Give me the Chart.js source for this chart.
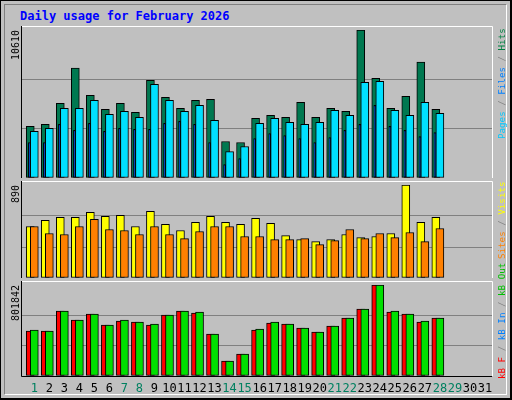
<!DOCTYPE html>
<html><head><meta charset="utf-8">
<script src="https://cdn.jsdelivr.net/npm/chart.js@4"></script>
<style>
html,body{margin:0;padding:0;}
#wrap{position:relative;width:512px;height:400px;background:#c0c0c0;box-sizing:border-box;border:1px solid #000;border-right:2px solid #000;border-bottom:2px solid #000;overflow:hidden;font-family:"DejaVu Sans Mono",monospace;}
#inner{position:absolute;left:3px;top:3px;right:3px;bottom:3px;border-right:1px solid #fff;border-bottom:1px solid #fff;border-left:1px solid #808080;border-top:1px solid #808080;}
canvas{position:absolute;left:0;}
.t{position:absolute;color:#0000ff;font-weight:bold;font-size:12px;left:19px;top:8px;}
.r{position:absolute;font-size:9.2px;white-space:nowrap;transform-origin:0 0;transform:rotate(-90deg);}
</style></head><body>
<div id="wrap"><div id="inner"></div>
<div class="t">Daily usage for February 2026</div>
<canvas id="c1" width="512" height="153" style="top:24px"></canvas>
<canvas id="c2" width="512" height="97" style="top:180px"></canvas>
<canvas id="c3" width="512" height="120" style="top:280px"></canvas>
<div class="r" style="left:495px;top:138px"><span style="color:#00c8ff">Pages</span><span style="color:#808080"> / </span><span style="color:#0080ff">Files</span><span style="color:#808080"> / </span><span style="color:#008040">Hits</span></div>
<div class="r" style="left:495px;top:258px"><span style="color:#ff8000">Sites</span><span style="color:#808080"> / </span><span style="color:#ffff00">Visits</span></div>
<div class="r" style="left:495px;top:378px"><span style="color:#ff0000">kB F</span><span style="color:#808080"> / </span><span style="color:#0080ff">kB In</span><span style="color:#808080"> / </span><span style="color:#00c000">kB Out</span></div>
</div>
<script>
const days = Array.from({length:31},(_,i)=>i+1);
const weekend = [1,7,8,14,15,21,22,28,29];
const hits  = [3697,3841,5353,7874,5929,4921,5353,4705,7009,5785,4993,5569,5641,2617,2545,4273,4489,4345,5425,4345,4993,4777,10610,7153,4993,5857,8306,4921];
const files = [3337,3553,4993,4993,5569,4561,4777,4345,6721,5569,4777,5209,4129,1896,2256,3913,4273,3985,3841,3985,4849,4489,6865,6937,4849,4489,5425,4633];
const pages = [2545,2545,3841,3409,3913,3337,3553,3481,3481,3913,4057,3841,2545,960,1392,2833,3193,3049,2833,2545,2905,3409,3841,5209,3697,3409,2977,3265];
const visits= [493,551,580,580,629,590,600,493,638,513,455,532,590,532,513,571,522,406,368,348,368,416,387,397,426,890,532,580];
const sites = [493,426,416,493,561,464,455,416,493,416,377,445,493,493,397,397,368,368,377,319,358,464,377,426,387,435,348,474];
const kbF   = [396521,396521,572744,493444,546310,449382,484632,475822,449382,537498,572744,555122,370080,132172,193852,405329,467009,458196,422952,387706,440570,511065,590367,801842,563934,546310,475822,511065];
const kbIn  = [0,0,0,0,0,0,0,0,4000,0,0,0,0,0,0,0,0,0,0,0,0,0,0,0,0,0,0,0];
const kbOut = [405329,396521,572744,493444,546310,449382,493444,475822,458196,537498,572744,563934,370080,132172,193852,414140,475822,458196,422952,387706,440570,511065,590367,801842,572744,546310,484632,511065];
const maxes = [10610, 890, 801842];

function pts(arr, off){ return arr.map((v,i)=>({x:days[i]+off, y:v})); }
function ds(arr, off, color, w, order){
  return {data:pts(arr,off), backgroundColor:color, borderColor:'#000', borderWidth:1, barThickness:w, grouped:false, order:order, borderSkipped:false};
}
const frame = {
  id:'frame',
  afterDraw(c, a, o){
    const ctx=c.ctx, ca=c.chartArea;
    ctx.save();
    ctx.lineWidth=1;
    ctx.strokeStyle='#fff';
    ctx.beginPath(); ctx.moveTo(ca.left, o.top+0.5); ctx.lineTo(ca.right+0.5, o.top+0.5); ctx.lineTo(ca.right+0.5, ca.bottom); ctx.stroke();
    ctx.strokeStyle='#000';
    ctx.beginPath(); ctx.moveTo(ca.left-0.5, o.top); ctx.lineTo(ca.left-0.5, ca.bottom+0.5); ctx.lineTo(ca.right, ca.bottom+0.5); ctx.stroke();
    ctx.fillStyle='#000'; ctx.font='10px "DejaVu Sans Mono"';
    ctx.translate(15, ca.top); ctx.rotate(-Math.PI/2);
    ctx.textAlign='right'; ctx.textBaseline='middle';
    ctx.fillText(String(o.max), 0, 0);
    ctx.restore();
    if(o.labels){
      const xs=c.scales.x;
      ctx.save(); ctx.font='12px "DejaVu Sans Mono"'; ctx.textAlign='center'; ctx.textBaseline='middle';
      days.forEach(d=>{ ctx.fillStyle = weekend.includes(d)?'#008060':'#000'; ctx.fillText(String(d), xs.getPixelForValue(d), ca.bottom+13); });
      ctx.restore();
    }
  }
};
function make(id, datasets, max, padTop, padBottom, labels){
  new Chart(document.getElementById(id), {
    type:'bar', data:{datasets},
    options:{responsive:false, animation:false, events:[],
      layout:{padding:{left:21, right:21, top:padTop, bottom:padBottom}},
      plugins:{legend:{display:false}, tooltip:{enabled:false}, frame:{max, top:padTop-4, labels}},
      scales:{
        x:{type:'linear', min:0.18, max:31.47, offset:false, bounds:'ticks', display:false},
        y:{min:0, max:max, display:true, border:{display:false}, ticks:{display:false, stepSize:max/3}, grid:{color:c=>(c.tick.value>0&&c.tick.value<max*0.99)?'#808080':'rgba(0,0,0,0)', drawTicks:false, lineWidth:1}}
      }},
    plugins:[frame]
  });
}
make('c1',[ds(hits,-0.27,'#007850',8,3), ds(files,0,'#00e0ff',8,2), ds(pages,-0.33,'#0040ff',2,1)], maxes[0], 5, 0, false);
make('c2',[ds(visits,-0.27,'#ffff00',8,2), ds(sites,0,'#ff8000',8,1)], maxes[1], 4, 0, false);
make('c3',[ds(kbF,-0.27,'#ff0000',8,3), ds(kbOut,0,'#00e000',8,2), ds(kbIn,-0.33,'#0080ff',2,1)], maxes[2], 4, 25, true);
</script></body></html>
